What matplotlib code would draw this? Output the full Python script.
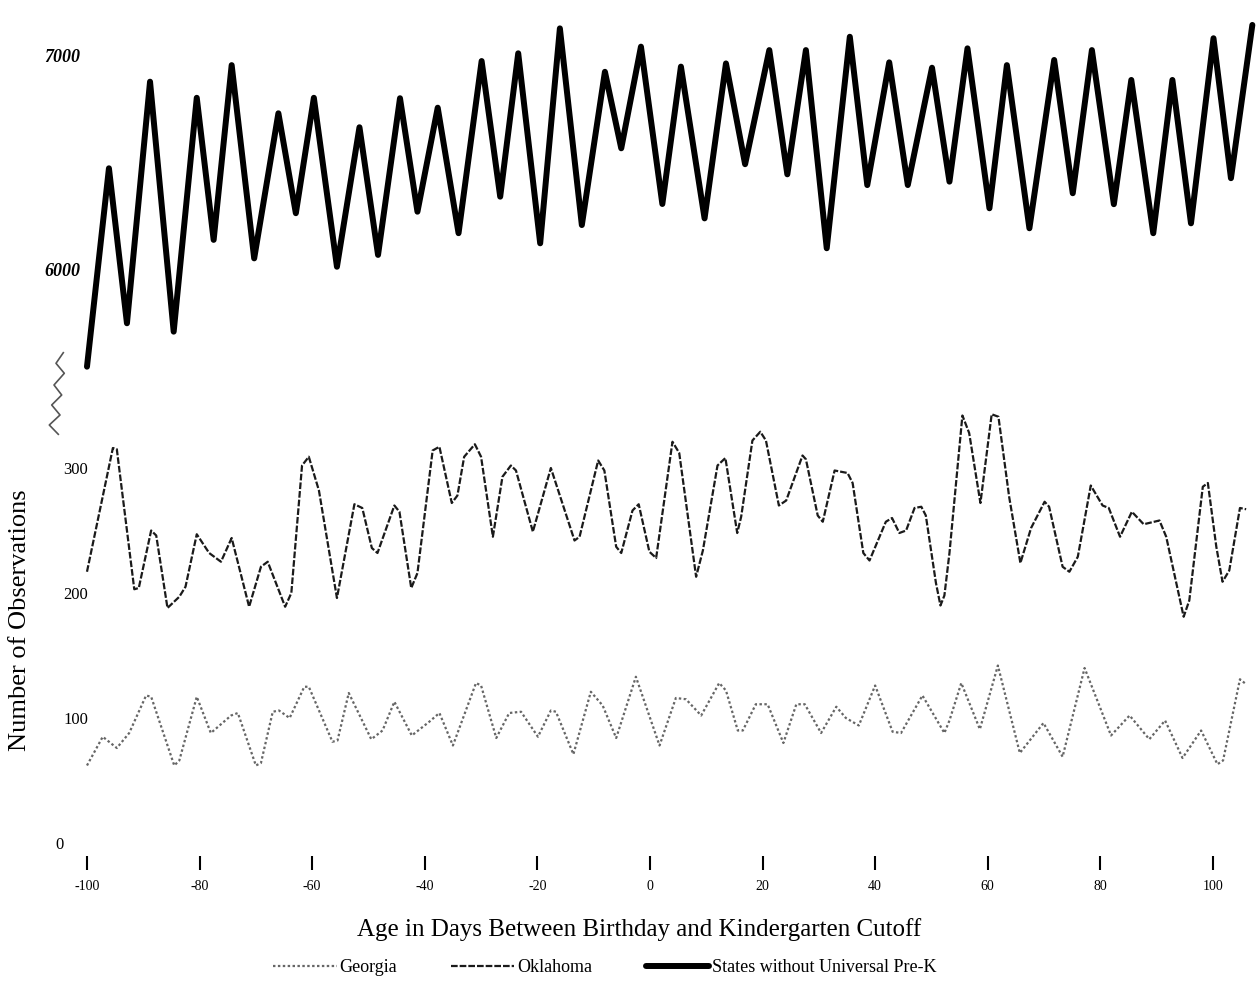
import numpy as np
import matplotlib.pyplot as plt
from matplotlib.lines import Line2D

plt.rcParams['font.family'] = ['Liberation Serif', 'DejaVu Serif']
plt.rcParams['axes.unicode_minus'] = False

# DATA
# states without universal pre-k (upper panel)
day_noprek = [-100, -96.1, -92.9, -88.8, -84.6, -80.5, -77.5, -74.3, -70.3, -66.0,
              -62.9, -59.7, -55.6, -51.6, -48.3, -44.4, -41.3, -37.7, -34.0, -29.9,
              -26.6, -23.4, -19.5, -16.0, -12.1, -8.0, -5.1, -1.6, 2.2, 5.5,
              9.7, 13.5, 16.9, 21.2, 24.4, 27.7, 31.4, 35.5, 38.6, 42.5,
              45.8, 50.1, 53.2, 56.4, 60.3, 63.4, 67.4, 71.8, 75.1, 78.5,
              82.4, 85.5, 89.4, 92.8, 96.1, 100.1, 103.2, 107.0]
obs_noprek = [5550, 6473, 5752, 6876, 5713, 6801, 6140, 6953, 6054, 6729,
              6264, 6801, 6015, 6664, 6070, 6799, 6271, 6755, 6171, 6972,
              6341, 7008, 6124, 7124, 6209, 6922, 6566, 7039, 6307, 6946,
              6240, 6961, 6492, 7023, 6445, 7023, 6101, 7085, 6395, 6966,
              6395, 6941, 6411, 7031, 6287, 6953, 6194, 6977, 6357, 7023,
              6306, 6884, 6171, 6884, 6217, 7078, 6427, 7140]

# oklahoma
day_ok = [-100, -95.4, -94.7, -91.6, -90.8, -88.6, -87.7, -85.7, -83.6, -82.5,
          -80.5, -78.3, -76.2, -74.3, -71.2, -69.1, -67.9, -64.8, -63.7, -61.8,
          -60.6, -58.8, -55.6, -52.5, -51.1, -49.4, -48.4, -45.4, -44.5, -42.4,
          -41.3, -38.6, -37.4, -35.2, -34.2, -33.0, -31.1, -30.0, -27.9, -26.2,
          -24.7, -23.8, -20.8, -17.6, -13.4, -12.5, -9.2, -8.1, -6.0, -5.1,
          -3.1, -2.0, -0.1, 1.1, 4.0, 5.2, 8.2, 9.4, 12.0, 13.4,
          15.5, 16.2, 18.2, 19.6, 20.6, 22.9, 24.2, 27.1, 27.7, 29.8,
          30.7, 32.8, 35.1, 36.0, 37.9, 39.0, 41.9, 43.0, 44.3, 45.5,
          47.0, 48.2, 49.0, 50.8, 51.6, 52.3, 53.2, 55.5, 56.7, 58.7,
          60.7, 61.9, 63.8, 65.8, 67.7, 70.1, 70.9, 73.3, 74.5, 76.0,
          78.3, 80.4, 81.5, 83.5, 85.6, 87.7, 90.5, 91.7, 94.8, 95.8,
          98.2, 99.1, 100.6, 101.7, 102.9, 104.8, 105.9]
obs_ok = [217, 316, 315, 203, 204, 250, 246, 188, 197, 205,
          247, 232, 225, 244, 189, 221, 225, 189, 200, 302,
          309, 282, 196, 271, 268, 236, 232, 270, 265, 204,
          216, 314, 317, 272, 278, 309, 319, 309, 245, 293,
          302, 298, 249, 300, 242, 245, 306, 298, 237, 232,
          266, 271, 233, 228, 321, 312, 213, 234, 302, 308,
          248, 261, 322, 329, 322, 270, 274, 310, 307, 262,
          257, 298, 296, 288, 232, 226, 257, 260, 248, 250,
          268, 269, 262, 208, 190, 198, 232, 342, 328, 272,
          343, 341, 277, 224, 252, 273, 269, 221, 217, 229,
          286, 270, 268, 245, 265, 255, 258, 245, 181, 194,
          285, 288, 237, 209, 218, 268, 267]

# georgia
day_ga = [-100, -97.2, -94.7, -92.5, -89.5, -88.6, -84.5, -83.6, -80.5, -78.0,
          -74.4, -73.2, -70.0, -69.1, -67.0, -65.9, -64.0, -61.4, -60.6, -56.4,
          -55.5, -53.5, -49.5, -47.5, -45.4, -42.3, -39.2, -37.4, -35.0, -30.9,
          -30.0, -27.3, -25.0, -22.9, -19.9, -17.6, -16.7, -13.6, -10.5, -8.4,
          -6.0, -2.5, 1.7, 4.6, 6.4, 9.1, 12.3, 13.5, 15.6, 16.5,
          18.8, 20.9, 23.7, 26.0, 27.5, 30.4, 33.1, 34.8, 37.1, 40.0,
          43.1, 44.6, 48.4, 52.3, 53.2, 55.3, 58.6, 61.8, 65.7, 69.9,
          73.3, 77.2, 81.9, 85.2, 88.7, 91.5, 94.6, 97.9, 100.8, 101.8,
          104.8, 105.9]
obs_ga = [62, 85, 76, 88, 118, 117, 62, 66, 117, 88,
          102, 104, 62, 64, 105, 106, 100, 125, 125, 81,
          82, 120, 83, 90, 113, 86, 97, 104, 78, 128,
          126, 84, 104, 105, 85, 106, 105, 71, 121, 110,
          84, 133, 78, 116, 115, 102, 128, 122, 90, 90,
          111, 111, 80, 111, 111, 88, 109, 100, 94, 126,
          89, 88, 118, 88, 98, 128, 91, 142, 72, 96,
          69, 140, 86, 102, 83, 98, 68, 90, 63, 66,
          131, 127]

xticks = [-100, -80, -60, -40, -20, 0, 20, 40, 60, 80, 100]
yticks_top = [6000, 7000]
yticks_bot = [0, 100, 200, 300]

# FIGURE
fig = plt.figure(figsize=(12.59, 9.83), dpi=100)
ax_top = fig.add_axes([80/1259, 1-380/983, 1176/1259, 360/983])
ax_bot = fig.add_axes([80/1259, 1-856/983, 1176/1259, 456/983])

for ax in (ax_top, ax_bot):
    ax.set_xlim(-101.24, 107.65)
    for s in ax.spines.values():
        s.set_visible(False)
    ax.patch.set_alpha(0)
ax_top.set_ylim(5488, 7163)
ax_bot.set_ylim(-10.4, 354.4)

l_us, = ax_top.plot(day_noprek, obs_noprek, color='black', lw=4.3,
                    solid_joinstyle='round', solid_capstyle='round',
                    label='States without Universal Pre-K')
l_ok, = ax_bot.plot(day_ok, obs_ok, color='#1a1a1a', lw=1.6,
                    ls=(0, (3, 0.9)), label='Oklahoma')
l_ga, = ax_bot.plot(day_ga, obs_ga, color='#666666', lw=1.6,
                    ls=(0, (1.1, 1.1)), label='Georgia')

# ticks
ax_top.set_xticks([])
ax_top.set_yticks(yticks_top)
ax_top.set_yticklabels([str(v) for v in yticks_top], fontstyle='italic',
                       fontweight='bold', fontsize=13)
ax_top.tick_params(axis='y', length=0, pad=0)

ax_bot.set_yticks(yticks_bot)
ax_bot.tick_params(axis='y', length=0, pad=-6, labelsize=12)
# the 0 label sits further left in the original
ax_bot.yaxis.get_major_ticks()[0].set_pad(12)
ax_bot.set_xticks(xticks)
ax_bot.tick_params(axis='x', length=10, width=1.5, pad=7, labelsize=10,
                   direction='out')

# break mark between panels
zx = [63.3, 56, 64.3, 54, 61.7, 51.7, 60, 49.3, 58.3]
zy = [352.7, 363.3, 373.3, 385, 395, 405, 415, 425, 434.3]
fig.add_artist(Line2D([v/1259 for v in zx], [1 - v/983 for v in zy],
                      transform=fig.transFigure, color='#555555', lw=1.2))

# labels
fig.text(639/1259, 1-930/983, 'Age in Days Between Birthday and Kindergarten Cutoff',
         fontsize=18, ha='center', va='center')
fig.text(20/1259, 1-620/983, 'Number of Observations', fontsize=19,
         rotation=90, ha='center', va='center')

fig.legend(handles=[l_ga, l_ok, l_us], loc='center', ncol=3,
           bbox_to_anchor=(605/1259, 1-968/983), frameon=False, fontsize=13,
           handlelength=3.5, handletextpad=0.15, columnspacing=3.0)

fig.savefig('out.png', dpi=100)
